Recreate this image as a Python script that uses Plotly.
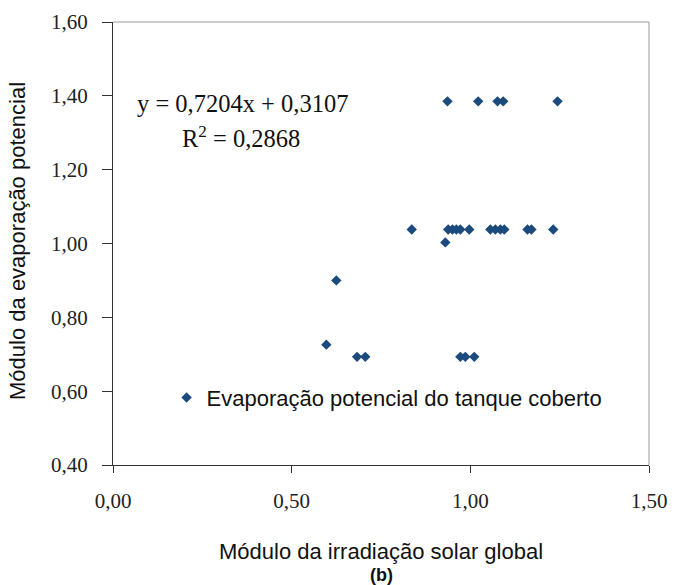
import plotly.graph_objects as go

# Module of global solar irradiation (x) vs module of potential evaporation (y)
irradiacao = [0.936, 1.022, 1.076, 1.092, 1.244,
              0.836, 0.938, 0.950, 0.961, 0.972, 0.997, 1.056, 1.070, 1.084, 1.095,
              1.160, 1.171, 1.232,
              0.930,
              0.625,
              0.597,
              0.683, 0.706, 0.972, 0.986, 1.011]
evaporacao = [1.385, 1.385, 1.385, 1.385, 1.385,
              1.038, 1.038, 1.038, 1.038, 1.038, 1.038, 1.038, 1.038, 1.038, 1.038,
              1.038, 1.038, 1.038,
              1.003,
              0.900,
              0.726,
              0.693, 0.693, 0.693, 0.693, 0.693]

x_ticks = [0.0, 0.5, 1.0, 1.5]
y_ticks = [0.4, 0.6, 0.8, 1.0, 1.2, 1.4, 1.6]

equacao = "y = 0,7204x + 0,3107"
r2 = "R<sup>2</sup> = 0,2868"

serif = "Liberation Serif, Times New Roman, serif"
sans = "Liberation Sans, Arial, sans-serif"
azul = "#1b4a7d"

fig = go.Figure()
fig.add_trace(go.Scatter(
    x=irradiacao, y=evaporacao, mode="markers",
    marker=dict(symbol="diamond", size=8, color=azul),
    name="Evaporação potencial do tanque coberto",
    showlegend=True,
))

fig.update_layout(
    width=675, height=585,
    margin=dict(l=113, r=26, t=22, b=120),
    paper_bgcolor="white", plot_bgcolor="white",
    separators=",.",
    showlegend=True,
    legend=dict(x=0.1, y=0.152, xanchor="left", yanchor="middle",
                bgcolor="rgba(0,0,0,0)", itemwidth=30,
                font=dict(family=sans, size=22, color="#111")),
    xaxis=dict(range=[0, 1.5], tickvals=x_ticks, tickformat=".2f",
               automargin=False,
               showgrid=False, zeroline=False,
               showline=True, linecolor="#333", linewidth=1.2,
               ticks="outside", ticklen=7, tickcolor="#333",
               ticklabelstandoff=10,
               tickfont=dict(family=serif, size=21, color="#222")),
    yaxis=dict(range=[0.4, 1.6], tickvals=y_ticks, tickformat=".2f",
               automargin=False,
               showgrid=False, zeroline=False,
               showline=True, linecolor="#333", linewidth=1.2,
               ticks="outside", ticklen=10, tickcolor="#333",
               ticklabelstandoff=10,
               tickfont=dict(family=serif, size=21, color="#222")),
    shapes=[
        dict(type="line", xref="paper", yref="paper", x0=0, x1=1, y0=1, y1=1,
             line=dict(color="#999", width=1)),
        dict(type="line", xref="paper", yref="paper", x0=1, x1=1, y0=0, y1=1,
             line=dict(color="#999", width=1)),
    ],
    annotations=[
        dict(x=0.062, y=1.38, xref="x", yref="y", text=equacao, showarrow=False,
             xanchor="left", yanchor="middle",
             font=dict(family=serif, size=24.5, color="#111")),
        dict(x=0.188, y=1.288, xref="x", yref="y", text=r2, showarrow=False,
             xanchor="left", yanchor="middle",
             font=dict(family=serif, size=24.5, color="#111")),
        dict(x=0.5, y=-0.196, xref="paper", yref="paper",
             text="Módulo da irradiação solar global", showarrow=False,
             xanchor="center", yanchor="middle",
             font=dict(family=sans, size=22, color="#111")),
        dict(x=0.5, y=-0.248, xref="paper", yref="paper",
             text="<b>(b)</b>", showarrow=False,
             xanchor="center", yanchor="middle",
             font=dict(family=sans, size=18, color="#111")),
        dict(x=-0.177, y=0.506, xref="paper", yref="paper",
             text="Módulo da evaporação potencial", showarrow=False,
             textangle=-90, xanchor="center", yanchor="middle",
             font=dict(family=sans, size=22, color="#111")),
    ],
)

fig.write_html("out.html")
